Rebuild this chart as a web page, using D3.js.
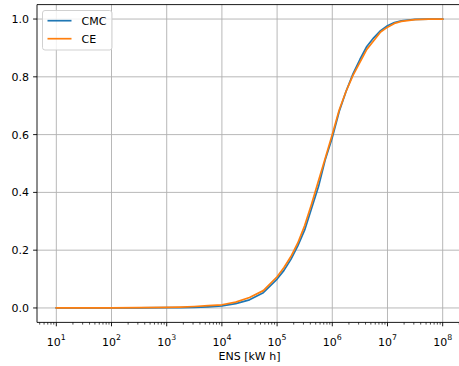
<!DOCTYPE html>
<html>
<head>
<meta charset="utf-8">
<script src="https://cdn.jsdelivr.net/npm/d3@7"></script>
<style>
  body { margin: 0; background: #fff; }
  svg { font-family: "DejaVu Sans", sans-serif; }
</style>
</head>
<body>
<div id="chart"></div>
<script>
// log10 of ENS [kW h] where the curves were read
var logEns = [1, 1.5, 2, 2.5, 3, 3.25, 3.5, 3.75, 4, 4.25, 4.5, 4.75, 5, 5.125, 5.25, 5.375, 5.5, 5.625, 5.75, 5.875, 6, 6.125, 6.25, 6.375, 6.5, 6.625, 6.75, 6.875, 7, 7.125, 7.25, 7.5, 7.75, 8];
var cmc = [0, 0, 0, 0, 0.001, 0.001, 0.002, 0.004, 0.007, 0.015, 0.028, 0.053, 0.1, 0.13, 0.168, 0.215, 0.27, 0.345, 0.42, 0.515, 0.59, 0.68, 0.75, 0.81, 0.86, 0.905, 0.935, 0.96, 0.977, 0.988, 0.994, 0.999, 1, 1];
var ce = [0, 0, 0, 0.001, 0.002, 0.003, 0.005, 0.008, 0.011, 0.02, 0.036, 0.06, 0.108, 0.14, 0.178, 0.225, 0.285, 0.36, 0.44, 0.52, 0.6, 0.685, 0.75, 0.805, 0.85, 0.895, 0.925, 0.955, 0.972, 0.985, 0.992, 0.998, 1, 1];
var seriesNames = ["CMC", "CE"];
var seriesColors = ["#1f77b4", "#ff7f0e"];
var xTicks = [1e1, 1e2, 1e3, 1e4, 1e5, 1e6, 1e7, 1e8];
var yTicks = [0, 0.2, 0.4, 0.6, 0.8, 1.0];

var W = 459, H = 366;
var mLeft = 37, mRight = 462, mTop = 4.6, mBottom = 322.4;
var fs = 11;

var svg = d3.select("#chart").append("svg")
    .attr("width", W)
    .attr("height", H);

var x = d3.scaleLog()
    .domain([Math.pow(10, 0.65), Math.pow(10, 8.35)])
    .range([mLeft, mRight]);
var y = d3.scaleLinear()
    .domain([-0.05, 1.05])
    .range([mBottom, mTop]);

// grid
svg.append("g").selectAll("line").data(xTicks).enter().append("line")
    .attr("x1", d => x(d)).attr("x2", d => x(d))
    .attr("y1", mTop).attr("y2", mBottom)
    .attr("stroke", "#b0b0b0").attr("stroke-width", 0.9);
svg.append("g").selectAll("line").data(yTicks).enter().append("line")
    .attr("x1", mLeft).attr("x2", mRight)
    .attr("y1", d => y(d)).attr("y2", d => y(d))
    .attr("stroke", "#b0b0b0").attr("stroke-width", 0.9);

// curves
var series = [cmc, ce];
var line = d3.line()
    .x((d, i) => x(Math.pow(10, logEns[i])))
    .y(d => y(d));
series.forEach(function(vals, k) {
    svg.append("path")
        .datum(vals)
        .attr("d", line)
        .attr("fill", "none")
        .attr("stroke", seriesColors[k])
        .attr("stroke-width", 1.7)
        .attr("stroke-linejoin", "round")
        .attr("stroke-linecap", "square");
});

// spines
svg.append("line").attr("x1", mLeft).attr("x2", mLeft).attr("y1", mTop).attr("y2", mBottom)
    .attr("stroke", "#000").attr("stroke-width", 0.9);
svg.append("line").attr("x1", mLeft).attr("x2", mRight).attr("y1", mBottom).attr("y2", mBottom)
    .attr("stroke", "#000").attr("stroke-width", 0.9);
svg.append("line").attr("x1", mLeft).attr("x2", mRight).attr("y1", mTop).attr("y2", mTop)
    .attr("stroke", "#000").attr("stroke-width", 0.9);

// x axis ticks
var minor = [];
for (var e = 0; e <= 8; e++) {
    for (var m = 2; m <= 9; m++) {
        var v = m * Math.pow(10, e);
        if (v > x.domain()[0] && v < x.domain()[1]) minor.push(v);
    }
}
svg.append("g").selectAll("line").data(minor).enter().append("line")
    .attr("x1", d => x(d)).attr("x2", d => x(d))
    .attr("y1", mBottom).attr("y2", mBottom + 2.2)
    .attr("stroke", "#000").attr("stroke-width", 0.7);
svg.append("g").selectAll("line").data(xTicks).enter().append("line")
    .attr("x1", d => x(d)).attr("x2", d => x(d))
    .attr("y1", mBottom).attr("y2", mBottom + 3.9)
    .attr("stroke", "#000").attr("stroke-width", 0.9);
var xl = svg.append("g").selectAll("text").data(xTicks).enter().append("text")
    .attr("x", d => x(d))
    .attr("y", 345.5)
    .attr("text-anchor", "middle")
    .attr("font-size", fs)
    .attr("fill", "#000");
xl.append("tspan").text("10");
xl.append("tspan").attr("dy", -6).attr("font-size", 7.8)
    .text(d => Math.round(Math.log10(d)));

svg.append("text")
    .attr("x", (mLeft + mRight) / 2)
    .attr("y", 359.5)
    .attr("text-anchor", "middle")
    .attr("font-size", fs)
    .attr("fill", "#000")
    .text("ENS [kW h]");

// y axis
svg.append("g").selectAll("line").data(yTicks).enter().append("line")
    .attr("x1", mLeft - 3.9).attr("x2", mLeft)
    .attr("y1", d => y(d)).attr("y2", d => y(d))
    .attr("stroke", "#000").attr("stroke-width", 0.9);
svg.append("g").selectAll("text").data(yTicks).enter().append("text")
    .attr("x", mLeft - 8)
    .attr("y", d => y(d))
    .attr("dy", "0.36em")
    .attr("text-anchor", "end")
    .attr("font-size", fs)
    .attr("fill", "#000")
    .text(d => d3.format(".1f")(d));

// legend
var lg = svg.append("g");
lg.append("rect")
    .attr("x", 42.5).attr("y", 10.5)
    .attr("width", 69.5).attr("height", 39.5)
    .attr("rx", 2.5)
    .attr("fill", "#fff").attr("fill-opacity", 0.8)
    .attr("stroke", "#cccccc").attr("stroke-width", 0.9);
seriesNames.forEach(function(name, k) {
    var ly = 20.7 + k * 18;
    lg.append("line")
        .attr("x1", 47.5).attr("x2", 71.5)
        .attr("y1", ly).attr("y2", ly)
        .attr("stroke", seriesColors[k]).attr("stroke-width", 1.7);
    lg.append("text")
        .attr("x", 81.5).attr("y", ly)
        .attr("dy", "0.36em")
        .attr("font-size", fs)
        .attr("fill", "#000")
        .text(name);
});
</script>
</body>
</html>
